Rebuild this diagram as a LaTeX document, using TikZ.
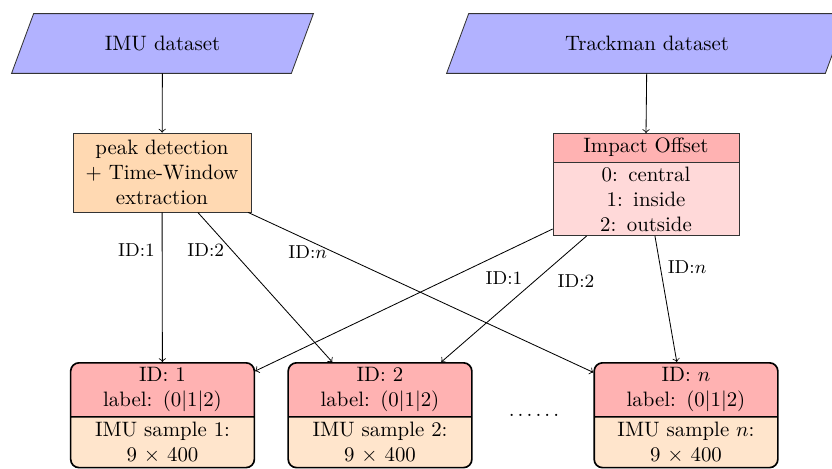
\documentclass[tikz,border=0pt]{standalone}
\usetikzlibrary{shapes.multipart}
\pgfdeclarelayer{background}
\pgfsetlayers{background,main}
\begin{document}
\begin{tikzpicture}[x=0.48pt,y=-0.48pt,
 dataset/.style={rectangle, minimum height=28.3pt, inner sep=0pt},
 datafill/.style={draw=black!80, fill=blue!30},
 procbox/.style={rectangle, draw=black!80, fill=orange!30, minimum width=85.4pt, minimum height=37.9pt, align=center, inner sep=2pt},
 offsetbox/.style={rectangle split, rectangle split parts=2, draw=black!80, rectangle split part fill={red!30,red!15}, text width=82.6pt, align=center, inner ysep=1.8pt},
 samplebox/.style={rectangle split, rectangle split parts=2, draw, thick, rounded corners=4pt, rectangle split part fill={red!30,orange!20}, text width=81.5pt, align=center, inner ysep=1.9pt},
 conn/.style={->},
 idlabel/.style={font=\small}
]
\useasboundingbox (0,0) rectangle (832,468);

\node[dataset, minimum width=133.9pt] (imu) at (162.5,43.5) {IMU dataset};
\node[dataset, minimum width=181.4pt] (track) at (647,43.5) {Trackman dataset};
\begin{pgfonlayer}{background}
\draw[datafill] ([xshift=-5.3pt]imu.south west) -- ([xshift=-5.3pt]imu.south east) -- ([xshift=5.3pt]imu.north east) -- ([xshift=5.3pt]imu.north west) -- cycle;
\draw[datafill] ([xshift=-5.3pt]track.south west) -- ([xshift=-5.3pt]track.south east) -- ([xshift=5.3pt]track.north east) -- ([xshift=5.3pt]track.north west) -- cycle;
\end{pgfonlayer}

\node[procbox] (peak) at (162,172.5) {peak detection\\+ Time-Window\\extraction};
\node[offsetbox, anchor=north] (impact) at (646,133) {\rule[-2.9pt]{0pt}{8.1pt}Impact Offset\nodepart{two}0:\enspace central\\1:\enspace inside\\2:\enspace outside};

\node[samplebox, anchor=north] (box1) at (162.5,362) {ID: 1\\label:\enspace(0$|$1$|$2)\nodepart{two}IMU sample 1:\\9 $\times$ 400};
\node[samplebox, anchor=north] (box2) at (380,362) {ID: 2\\label:\enspace(0$|$1$|$2)\nodepart{two}IMU sample 2:\\9 $\times$ 400};
\node[samplebox, anchor=north] (boxn) at (686,362) {ID: $n$\\label:\enspace(0$|$1$|$2)\nodepart{two}IMU sample $n$:\\9 $\times$ 400};
\node (dots) at (534,415) {.\hspace{1.5pt}.\hspace{1.5pt}.\hspace{1.5pt}.\hspace{1.5pt}.\hspace{1.5pt}.};

\draw[conn] (imu) -- (peak);
\draw[conn] (track) -- (impact.north);

\draw[conn] (peak) -- node[idlabel, pos=0.25, left] {ID:1} (box1);
\draw[conn] (peak) -- node[idlabel, pos=0.25, left] {ID:2} (box2);
\draw[conn] (peak) -- node[idlabel, pos=0.25, left] {ID:$n$} (boxn);

\draw[conn] (impact) -- node[idlabel, pos=0.25, below right] {ID:1} (box1);
\draw[conn] (impact) -- node[idlabel, pos=0.25, below right] {ID:2} (box2);
\draw[conn] (impact) -- node[idlabel, pos=0.25, right] {ID:$n$} (boxn);
\end{tikzpicture}
\end{document}
